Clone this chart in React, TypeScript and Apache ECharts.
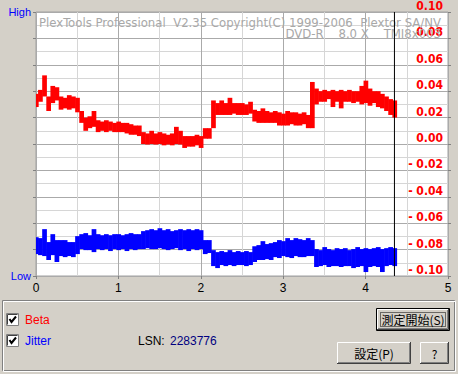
import React, { useEffect, useRef } from 'react';
import * as echarts from 'echarts';

// Sample spacing (in position units along the x axis)
const X_STEP = 0.05;
// End of measured data (black marker line)
const END_X = 4.35;

// Beta (right axis) — per-sample upper / lower envelope
const BETA_HI = [
  0.038, 0.041, 0.052, 0.034, 0.044, 0.043, 0.036, 0.035, 0.037, 0.036,
  0.035, 0.025, 0.020, 0.021, 0.025, 0.018, 0.017, 0.018, 0.017, 0.016,
  0.017, 0.016, 0.016, 0.015, 0.014, 0.014, 0.009, 0.008, 0.010, 0.008,
  0.009, 0.008, 0.007, 0.008, 0.013, 0.010, 0.006, 0.006, 0.006, 0.007,
  0.006, 0.012, 0.012, 0.033, 0.031, 0.033, 0.031, 0.035, 0.031, 0.031,
  0.031, 0.030, 0.032, 0.026, 0.025, 0.027, 0.025, 0.024, 0.025, 0.024,
  0.023, 0.025, 0.024, 0.024, 0.023, 0.024, 0.022, 0.047, 0.042, 0.040,
  0.041, 0.040, 0.041, 0.040, 0.041, 0.040, 0.041, 0.040, 0.040, 0.044,
  0.048, 0.042, 0.040, 0.040, 0.038, 0.036, 0.034, 0.033,
];
const BETA_LO = [
  0.028, 0.032, 0.036, 0.025, 0.031, 0.033, 0.026, 0.027, 0.026, 0.027,
  0.024, 0.016, 0.010, 0.012, 0.013, 0.009, 0.010, 0.009, 0.010, 0.009,
  0.009, 0.009, 0.008, 0.007, 0.007, 0.006, 0.000, -0.0004, 0.000, -0.0004,
  0.000, -0.001, -0.0004, -0.001, 0.000, -0.0004, -0.003, -0.002, -0.002, -0.001,
  -0.003, 0.004, 0.004, 0.023, 0.022, 0.022, 0.022, 0.022, 0.023, 0.022,
  0.022, 0.022, 0.023, 0.017, 0.016, 0.016, 0.016, 0.016, 0.016, 0.014,
  0.014, 0.014, 0.015, 0.014, 0.014, 0.015, 0.012, 0.012, 0.030, 0.032,
  0.032, 0.034, 0.028, 0.032, 0.027, 0.032, 0.032, 0.031, 0.032, 0.030,
  0.031, 0.029, 0.031, 0.028, 0.027, 0.025, 0.022, 0.020,
];

// Jitter (left axis, Low..High) — per-sample upper / lower envelope
const JIT_HI = [
  2.94, 2.87, 3.55, 2.57, 3.17, 2.72, 2.72, 2.72, 2.57, 2.57,
  3.02, 3.17, 3.25, 3.09, 3.55, 3.17, 3.09, 3.17, 3.09, 3.17,
  3.17, 3.09, 3.17, 3.25, 3.17, 3.17, 3.40, 3.47, 3.55, 3.47,
  3.62, 3.47, 3.55, 3.40, 3.47, 3.55, 3.47, 3.55, 3.47, 3.55,
  3.47, 2.72, 2.72, 1.96, 1.81, 1.89, 1.81, 1.96, 1.81, 1.89,
  1.81, 1.89, 1.81, 2.26, 2.34, 2.64, 2.42, 2.49, 2.57, 2.72,
  2.64, 2.87, 2.72, 2.87, 2.79, 2.72, 2.87, 2.72, 2.04, 1.96,
  2.19, 2.04, 1.96, 2.11, 2.04, 2.11, 1.96, 2.04, 2.19, 2.04,
  2.11, 2.04, 2.11, 2.19, 2.04, 2.11, 2.19, 2.11,
];
const JIT_LO = [
  1.66, 1.58, 1.51, 1.21, 1.58, 1.06, 1.51, 1.43, 1.51, 1.43,
  1.66, 2.04, 1.96, 1.96, 1.81, 2.04, 1.96, 2.04, 1.89, 2.04,
  1.96, 2.04, 1.89, 2.04, 1.96, 2.04, 2.04, 2.11, 2.04, 2.04,
  2.11, 2.04, 1.96, 2.04, 2.11, 1.96, 2.04, 1.89, 2.04, 1.96,
  2.04, 1.66, 1.74, 0.75, 0.60, 0.83, 0.75, 0.83, 0.75, 0.83,
  0.83, 0.75, 0.83, 1.06, 1.21, 1.21, 1.28, 1.21, 1.43, 1.36,
  1.51, 1.43, 1.36, 1.51, 1.43, 1.43, 1.51, 1.51, 0.68, 0.75,
  0.83, 0.68, 0.75, 0.75, 0.68, 0.75, 0.75, 0.60, 0.68, 0.75,
  0.30, 0.68, 0.75, 0.68, 0.30, 0.75, 0.83, 0.75,
];

const X_MIN = 0;
const X_MAX = 5;
const BETA_MIN = -0.1;
const BETA_MAX = 0.1;
const JIT_MIN = 0;
const JIT_MAX = 20;
const LEFT_LABELS: Record<number, string> = { 0: 'Low', 20: 'High' };

const WATERMARK_1 = 'PlexTools Professional  V2.35 Copyright(C) 1999-2006  Plextor SA/NV';
const WATERMARK_2 = 'DVD-R    8.0 X    TMI8x003';
const LSN = '2283776';

const UI = "'Liberation Sans', Arial, sans-serif";
const NARROW = "'Liberation Sans Narrow', 'DejaVu Sans Condensed', 'Liberation Sans', sans-serif";
const CJK = "'Noto Sans CJK JP', 'Noto Sans CJK SC', sans-serif";
const FACE = '#d4d0c8';

function bandData(hi: number[], lo: number[]) {
  return hi.map((h, i) => [i * X_STEP, lo[i], h]);
}

// Each sample is drawn as a vertical bar; it is stretched to meet the previous
// sample so the trace reads as one connected line, as in the original plot.
function bandRender(color: string, hiArr: number[], loArr: number[]) {
  return (params: any, api: any) => {
    const i = params.dataIndex;
    const x = api.value(0);
    let lo = api.value(1);
    let hi = api.value(2);
    if (i > 0) {
      const pHi = hiArr[i - 1];
      const pLo = loArr[i - 1];
      if (lo > pHi) lo = pHi;
      if (hi < pLo) hi = pLo;
    }
    const top = api.coord([x, hi]);
    const bot = api.coord([x, lo]);
    const w = api.size([X_STEP, 0])[0];
    return {
      type: 'rect',
      shape: { x: top[0] - w / 2, y: top[1], width: w + 0.6, height: Math.max(1, bot[1] - top[1]) },
      style: { fill: color },
    };
  };
}

function button(x: number, y: number, w: number, h: number, label: string, isDefault: boolean) {
  const els: any[] = [
    { type: 'rect', shape: { x, y, width: w, height: h }, style: { fill: FACE } },
  ];
  let ox = x, oy = y, ow = w, oh = h;
  if (isDefault) {
    els.push({ type: 'rect', shape: { x: x + 0.5, y: y + 0.5, width: w - 1, height: h - 1 }, style: { fill: 'none', stroke: '#000', lineWidth: 1 } });
    ox = x + 1; oy = y + 1; ow = w - 2; oh = h - 2;
  }
  els.push(
    { type: 'polyline', shape: { points: [[ox + 0.5, oy + oh - 1], [ox + 0.5, oy + 0.5], [ox + ow - 1, oy + 0.5]] }, style: { stroke: '#ffffff', fill: 'none', lineWidth: 1 } },
    { type: 'polyline', shape: { points: [[ox, oy + oh - 0.5], [ox + ow - 0.5, oy + oh - 0.5], [ox + ow - 0.5, oy]] }, style: { stroke: '#404040', fill: 'none', lineWidth: 1 } },
    { type: 'polyline', shape: { points: [[ox + 1, oy + oh - 1.5], [ox + ow - 1.5, oy + oh - 1.5], [ox + ow - 1.5, oy + 1]] }, style: { stroke: '#808080', fill: 'none', lineWidth: 1 } },
  );
  if (isDefault) {
    els.push({ type: 'rect', shape: { x: ox + 3.5, y: oy + 3.5, width: ow - 7, height: oh - 7 }, style: { fill: 'none', stroke: '#000', lineWidth: 1, lineDash: [1, 1] } });
  }
  els.push({
    type: 'text', x: x + w / 2, y: y + h / 2,
    style: { text: label, fill: '#000', font: `12px ${CJK}`, align: 'center', verticalAlign: 'middle' },
  });
  return els;
}

function checkbox(x: number, y: number) {
  return [
    { type: 'rect', shape: { x: x + 0.5, y: y + 0.5, width: 12, height: 12 }, style: { fill: '#ffffff', stroke: '#808080', lineWidth: 1 } },
    { type: 'polyline', shape: { points: [[x + 1.5, y + 11.5], [x + 1.5, y + 1.5], [x + 11.5, y + 1.5]] }, style: { stroke: '#404040', fill: 'none', lineWidth: 1 } },
    { type: 'polyline', shape: { points: [[x + 3.5, y + 6], [x + 5.5, y + 9], [x + 10, y + 3.5]] }, style: { stroke: '#000', fill: 'none', lineWidth: 2 } },
  ];
}

export default function App() {
  const ref = useRef<HTMLDivElement>(null);
  useEffect(() => {
    const chart = echarts.init(ref.current!, null, { renderer: 'svg' });
    const option: any = {
      animation: false,
      backgroundColor: FACE,
      grid: {
        left: 36, top: 11, width: 412, height: 265,
        show: true, backgroundColor: '#ffffff', borderColor: '#a0a0a0', borderWidth: 1,
      },
      xAxis: {
        type: 'value', min: X_MIN, max: X_MAX, interval: 1,
        axisLine: { show: false },
        axisTick: { show: true, length: 3, lineStyle: { color: '#808080' } },
        axisLabel: { color: '#000', fontSize: 12, fontFamily: UI, margin: 6 },
        splitLine: { show: true, lineStyle: { color: '#aaaaaa', width: 1 } },
        minorTick: { show: false, splitNumber: 2 },
        minorSplitLine: { show: true, lineStyle: { color: '#d6d6d6', width: 1 } },
      },
      yAxis: [
        {
          type: 'value', position: 'left', min: JIT_MIN, max: JIT_MAX, interval: 2,
          axisLine: { show: false },
          axisTick: { show: true, length: 3, lineStyle: { color: '#808080' } },
          axisLabel: {
            color: '#0000ff', fontSize: 11, fontFamily: UI, margin: 5,
            formatter: (v: number) => LEFT_LABELS[Math.round(v)] || '',
          },
          splitLine: { show: false },
        },
        {
          type: 'value', position: 'right', min: BETA_MIN, max: BETA_MAX, interval: 0.02,
          axisLine: { show: false },
          axisTick: { show: true, length: 3, lineStyle: { color: '#808080' } },
          axisLabel: {
            inside: true, margin: 5, color: '#ff0000', fontSize: 12, fontWeight: 'bold',
            fontFamily: NARROW, verticalAlign: 'bottom', lineHeight: 12,
            formatter: (v: number) => {
              const r = Math.round(v * 100) / 100;
              if (Math.abs(r) < 1e-9) return '0.00';
              return r < 0 ? '- ' + Math.abs(r).toFixed(2) : r.toFixed(2);
            },
          },
          splitLine: { show: true, lineStyle: { color: '#aaaaaa', width: 1 } },
          minorTick: { show: false, splitNumber: 2 },
          minorSplitLine: { show: true, lineStyle: { color: '#d6d6d6', width: 1 } },
        },
      ],
      series: [
        {
          type: 'custom', name: 'Jitter', xAxisIndex: 0, yAxisIndex: 0, clip: true,
          data: bandData(JIT_HI, JIT_LO), encode: { x: 0, y: [1, 2] },
          renderItem: bandRender('#0000ff', JIT_HI, JIT_LO),
        },
        {
          type: 'custom', name: 'Beta', xAxisIndex: 0, yAxisIndex: 1, clip: true,
          data: bandData(BETA_HI, BETA_LO), encode: { x: 0, y: [1, 2] },
          renderItem: bandRender('#ff0000', BETA_HI, BETA_LO),
        },
        {
          type: 'line', name: 'end', xAxisIndex: 0, yAxisIndex: 1, symbol: 'none',
          data: [[END_X, BETA_MIN], [END_X, BETA_MAX]],
          lineStyle: { color: '#000000', width: 1 }, z: 5,
        },
      ],
      graphic: [
        { type: 'text', x: 441, y: 22, z: 1, style: { text: WATERMARK_1, fill: '#a8a8a8', font: `13px ${NARROW}`, align: 'right', verticalAlign: 'middle' } },
        { type: 'text', x: 441, y: 33, z: 1, style: { text: WATERMARK_2, fill: '#a8a8a8', font: `13px ${NARROW}`, align: 'right', verticalAlign: 'middle' } },
        { type: 'rect', shape: { x: 2.5, y: 300.5, width: 452, height: 70 }, style: { fill: 'none', stroke: '#808080', lineWidth: 1 } },
        { type: 'rect', shape: { x: 3.5, y: 301.5, width: 452, height: 70 }, style: { fill: 'none', stroke: '#ffffff', lineWidth: 1 } },
        ...checkbox(6, 313),
        ...checkbox(6, 334),
        { type: 'text', x: 25, y: 319.5, style: { text: 'Beta', fill: '#ff0000', font: `12px ${UI}`, verticalAlign: 'middle' } },
        { type: 'text', x: 25, y: 340.5, style: { text: 'Jitter', fill: '#0000ff', font: `12px ${UI}`, verticalAlign: 'middle' } },
        { type: 'text', x: 138, y: 340.5, style: { text: 'LSN:', fill: '#000000', font: `12px ${UI}`, verticalAlign: 'middle' } },
        { type: 'text', x: 170, y: 340.5, style: { text: LSN, fill: '#000080', font: `12px ${UI}`, verticalAlign: 'middle' } },
        ...button(376, 308, 74, 23, '測定開始(S)', true),
        ...button(337, 342, 74, 22, '設定(P)', false),
        ...button(420, 342, 29, 22, '?', false),
      ],
    };
    chart.setOption(option);
    return () => chart.dispose();
  }, []);
  return <div ref={ref} style={{ position: 'fixed', left: 0, top: 0, width: 458, height: 374 }} />;
}
